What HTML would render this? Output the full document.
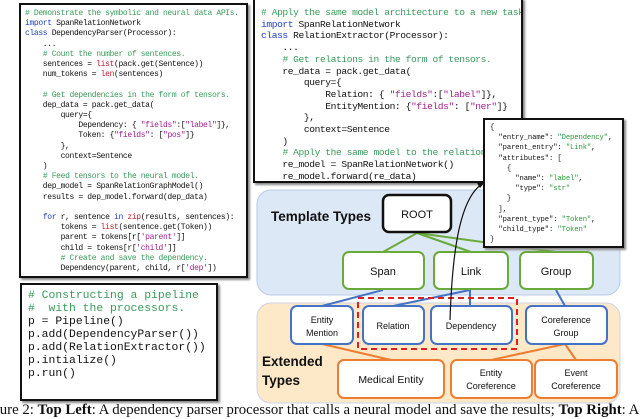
<!DOCTYPE html>
<html><head><meta charset="utf-8"><style>
*{margin:0;padding:0;box-sizing:border-box}
body{width:640px;height:417px;overflow:hidden;background:#fff;position:relative;font-family:"Liberation Sans",sans-serif}
.code{position:absolute;background:#fff;border:2.5px solid #111;box-shadow:2px 2px 2px #888;font-family:"Liberation Mono",monospace;color:#111;white-space:pre;overflow:hidden}
.c{color:#3a9a5a}.k{color:#2040c0}.p{color:#a0208a}.r{color:#c02030}.s{color:#2a9a3a}
</style></head><body>
<div class="code" style="left:19px;top:3px;width:229px;height:275px;font-size:8px;letter-spacing:-0.35px;line-height:10.2px;padding:4px 0 0 4px"><span class="c"># Demonstrate the symbolic and neural data APIs.</span>
<span class="k">import</span> SpanRelationNetwork
<span class="k">class</span> DependencyParser(Processor):
    ...
    <span class="c"># Count the number of sentences.</span>
    sentences = <span class="r">list</span>(pack.get(Sentence))
    num_tokens = <span class="r">len</span>(sentences)

    <span class="c"># Get dependencies in the form of tensors.</span>
    dep_data = pack.get_data(
        query={
            Dependency: { <span class="p">"fields"</span>:[<span class="p">"label"</span>]},
            Token: {<span class="p">"fields"</span>: [<span class="p">"pos"</span>]}
        },
        context=Sentence
    )
    <span class="c"># Feed tensors to the neural model.</span>
    dep_model = SpanRelationGraphModel()
    results = dep_model.forward(dep_data)

    <span class="k">for</span> r, sentence <span class="k">in</span> <span class="r">zip</span>(results, sentences):
        tokens = <span class="r">list</span>(sentence.get(Token))
        parent = tokens[r[<span class="p">'parent'</span>]]
        child = tokens[r[<span class="p">'child'</span>]]
        <span class="c"># Create and save the dependency.</span>
        Dependency(parent, child, r[<span class="p">'dep'</span>])</div>

<div class="code" style="left:253px;top:-2px;width:270px;height:185px;font-size:9.6px;letter-spacing:-0.4px;line-height:11.7px;padding:7px 0 0 6px"><span class="c"># Apply the same model architecture to a new task.</span>
<span class="k">import</span> SpanRelationNetwork
<span class="k">class</span> RelationExtractor(Processor):
    ...
    <span class="c"># Get relations in the form of tensors.</span>
    re_data = pack.get_data(
        query={
            Relation: { <span class="p">"fields"</span>:[<span class="p">"label"</span>]},
            EntityMention: {<span class="p">"fields"</span>: [<span class="p">"ner"</span>]}
        },
        context=Sentence
    )
    <span class="c"># Apply the same model to the relation</span>
    re_model = SpanRelationNetwork()
    re_model.forward(re_data)</div>

<div class="code" style="left:20px;top:283px;width:198px;height:118px;font-size:11.4px;line-height:13px;padding:5px 0 0 6px"><span class="c"># Constructing a pipeline
#  with the processors.</span>
p = Pipeline()
p.add(DependencyParser())
p.add(RelationExtractor())
p.intialize()
p.run()</div>

<svg style="position:absolute;left:0;top:0" width="640" height="417">
<rect x="257" y="190" width="363" height="105" rx="14" fill="#dde8f6" stroke="#b8cbe6"/>
<rect x="257" y="303" width="363" height="100" rx="14" fill="#fde8c8" stroke="#cdd3e6"/>
<g stroke="#6aaa3a" stroke-width="2" fill="none">
<line x1="417" y1="233" x2="383" y2="252"/><line x1="417" y1="233" x2="471" y2="252"/><line x1="417" y1="233" x2="556" y2="252"/>
</g>
<g stroke="#4472c4" stroke-width="2" fill="none">
<line x1="383" y1="290" x2="322" y2="306"/><line x1="470" y1="290" x2="470" y2="306"/><line x1="470" y1="290" x2="393" y2="306"/><line x1="556" y1="290" x2="565" y2="306"/>
</g>
<g stroke="#ed7d31" stroke-width="2" fill="none">
<line x1="322" y1="344" x2="391" y2="360"/><line x1="565" y1="344" x2="491" y2="360"/><line x1="565" y1="344" x2="576" y2="360"/>
</g>
<rect x="383" y="195" width="68" height="37" rx="6" fill="#fff" stroke="#111" stroke-width="2.5"/>
<g fill="#fff" stroke="#6aaa3a" stroke-width="2">
<rect x="343" y="252" width="81" height="37" rx="6"/><rect x="434" y="252" width="74" height="37" rx="6"/><rect x="520" y="252" width="73" height="37" rx="6"/>
</g>
<g fill="#fff" stroke="#4472c4" stroke-width="2">
<rect x="291" y="306" width="62" height="38" rx="6"/><rect x="363" y="306" width="61" height="38" rx="6"/><rect x="431" y="306" width="81" height="38" rx="6"/><rect x="526" y="306" width="81" height="38" rx="6"/>
</g>
<rect x="358" y="298" width="159" height="51" fill="none" stroke="#e02020" stroke-width="2" stroke-dasharray="6,4"/>
<g fill="#fff" stroke="#ed7d31" stroke-width="2">
<rect x="338" y="360" width="106" height="38" rx="6"/><rect x="451" y="360" width="81" height="38" rx="6"/><rect x="535" y="360" width="82" height="38" rx="6"/>
</g>
<g font-family="Liberation Sans,sans-serif" font-size="10" fill="#111" text-anchor="middle">
<text x="417" y="218" font-size="11">ROOT</text>
<text x="383" y="275" font-size="11">Span</text><text x="471" y="275" font-size="11">Link</text><text x="556" y="275" font-size="11">Group</text>
<text x="322" y="323" font-size="9">Entity</text><text x="322" y="336" font-size="9">Mention</text>
<text x="393" y="329" font-size="9">Relation</text><text x="471" y="329" font-size="9">Dependency</text>
<text x="566" y="323" font-size="9">Coreference</text><text x="566" y="336" font-size="9">Group</text>
<text x="391" y="383" font-size="10.5">Medical Entity</text>
<text x="491" y="376" font-size="9">Entity</text><text x="491" y="389" font-size="9">Coreference</text>
<text x="576" y="376" font-size="9">Event</text><text x="576" y="389" font-size="9">Coreference</text>
</g>
<g font-family="Liberation Sans,sans-serif" font-weight="bold" font-size="13.5" fill="#111">
<text x="271" y="221">Template Types</text>
<text x="262" y="366">Extended</text><text x="262" y="385">Types</text>
</g>
<path d="M450 320 C452 260 458 200 482 184" fill="none" stroke="#111" stroke-width="1.2"/>
<polygon points="484,183 477,183 480,188" fill="#111"/>
</svg>

<div class="code" style="left:483px;top:118px;width:141px;height:130px;font-size:7.2px;letter-spacing:-0.1px;line-height:10.2px;padding:3px 0 0 5px;border-width:2.5px">{
  "entry_name": <span class="s">"Dependency"</span>,
  "parent_entry": <span class="s">"Link"</span>,
  "attributes": [
    {
      "name": <span class="s">"label"</span>,
      "type": <span class="s">"str"</span>
    }
  ],
  "parent_type": <span class="s">"Token"</span>,
  "child_type": <span class="s">"Token"</span>
}</div>

<div style="position:absolute;left:-20px;top:402px;white-space:nowrap;font-family:'Liberation Serif',serif;font-size:14.8px;color:#111">Figure 2: <b>Top Left</b>: A dependency parser processor that calls a neural model and save the results; <b>Top Right</b>: A</div>
</body></html>
